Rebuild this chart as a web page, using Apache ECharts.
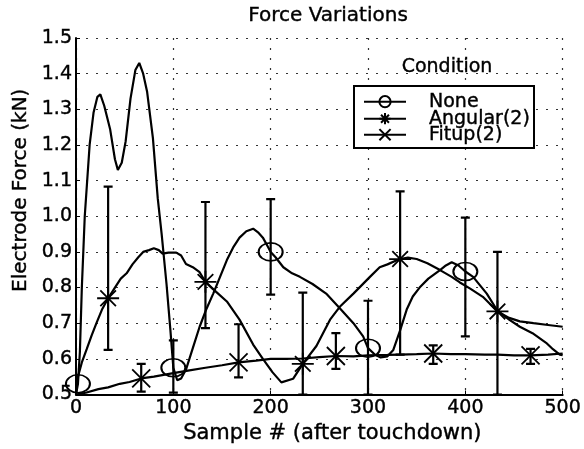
<!DOCTYPE html>
<html>
<head>
<meta charset="utf-8">
<script src="https://cdn.jsdelivr.net/npm/echarts@6/dist/echarts.min.js"></script>
<style>
  html, body { margin: 0; padding: 0; background: #fff; }
  #chart { width: 584px; height: 449px; }
</style>
</head>
<body>
<div id="chart"></div>
<script>
// curve samples
const noneX = [0, 2, 4, 6, 9, 14, 18, 22, 25, 29, 35, 40, 43, 47, 51, 56, 61, 65, 69, 73, 79, 84, 88, 93, 97, 100, 104, 108, 113, 120, 127, 134, 141, 148, 155, 162, 168, 175, 182, 187, 192, 197, 200, 205, 213, 222, 230, 243, 257, 271, 285, 295, 300, 307, 313, 320, 326, 333, 340, 346, 353, 362, 374, 380, 386, 393, 400, 408, 422, 433, 445, 456, 469, 483, 490, 497, 500]
const noneY = [0.50, 0.53, 0.62, 0.80, 1.00, 1.20, 1.29, 1.335, 1.342, 1.31, 1.245, 1.16, 1.13, 1.15, 1.21, 1.33, 1.41, 1.43, 1.40, 1.35, 1.22, 1.05, 0.95, 0.81, 0.68, 0.575, 0.54, 0.545, 0.57, 0.63, 0.69, 0.74, 0.783, 0.83, 0.877, 0.915, 0.94, 0.958, 0.965, 0.955, 0.94, 0.915, 0.90, 0.885, 0.857, 0.84, 0.83, 0.81, 0.783, 0.742, 0.70, 0.663, 0.63, 0.612, 0.604, 0.607, 0.625, 0.68, 0.74, 0.775, 0.80, 0.825, 0.849, 0.862, 0.871, 0.862, 0.845, 0.83, 0.783, 0.735, 0.71, 0.69, 0.672, 0.645, 0.627, 0.612, 0.61]

const angX = [0, 2, 6, 11, 16, 21, 27, 33, 40, 46, 52, 58, 64, 69, 75, 80, 85, 89, 95, 103, 108, 113, 120, 127, 133, 144, 155, 168, 182, 192, 202, 211, 223, 233, 247, 261, 271, 285, 302, 312, 320, 329, 333, 341, 350, 361, 374, 386, 394, 405, 418, 433, 445, 456, 470, 485, 500]
const angY = [0.50, 0.55, 0.59, 0.627, 0.665, 0.70, 0.74, 0.77, 0.80, 0.825, 0.84, 0.865, 0.885, 0.90, 0.905, 0.91, 0.905, 0.895, 0.898, 0.898, 0.89, 0.866, 0.857, 0.843, 0.816, 0.788, 0.761, 0.71, 0.64, 0.60, 0.562, 0.534, 0.544, 0.586, 0.636, 0.71, 0.746, 0.783, 0.83, 0.857, 0.865, 0.876, 0.88, 0.884, 0.88, 0.868, 0.849, 0.83, 0.815, 0.797, 0.774, 0.733, 0.715, 0.705, 0.70, 0.695, 0.69]

const fitX = [0, 10, 23, 33, 45, 55, 67, 80, 90, 100, 115, 133, 150, 167, 185, 200, 215, 233, 250, 267, 285, 300, 320, 333, 350, 367, 385, 400, 420, 433, 450, 467, 485, 500]
const fitY = [0.50, 0.505, 0.515, 0.52, 0.53, 0.535, 0.545, 0.55, 0.555, 0.56, 0.567, 0.575, 0.582, 0.59, 0.595, 0.60, 0.60, 0.601, 0.605, 0.608, 0.607, 0.61, 0.611, 0.612, 0.613, 0.615, 0.613, 0.613, 0.612, 0.612, 0.61, 0.61, 0.612, 0.615]

// where the markers sit
const noneMarks = [2, 100, 200, 300, 400]
const angMarks = [33, 133, 233, 333, 433]
const fitMarks = [67, 167, 267, 367, 467]

// error bars
const errX = [33, 67, 100, 133, 167, 200, 233, 267, 300, 333, 367, 400, 433, 467]
const errLo = [0.625, 0.508, 0.505, 0.686, 0.548, 0.78, 0.50, 0.572, 0.50, 0.612, 0.586, 0.663, 0.50, 0.586]
const errHi = [1.083, 0.586, 0.652, 1.04, 0.697, 1.048, 0.786, 0.672, 0.763, 1.07, 0.638, 0.996, 0.90, 0.628]

const xTicks = [0, 100, 200, 300, 400, 500]

const FONT = 'DejaVu Sans'
const STAR = 'path://M0,-10L0,10M-10,0L10,0M-7.1,-7.1L7.1,7.1M-7.1,7.1L7.1,-7.1'
const CROSS = 'path://M-7.1,-7.1L7.1,7.1M-7.1,7.1L7.1,-7.1'
// scanned text looks a little heavy
const ink = { color: '#000', textBorderColor: '#000', textBorderWidth: 0.4 }

function build(xs, ys, marks) {
  return xs.map((x, i) => marks.includes(x) ? [x, ys[i]] : { value: [x, ys[i]], symbol: 'none' })
}

function legendAt(name, top) {
  return {
    data: [name],
    left: 363,
    top: top,
    padding: 0,
    itemWidth: 42,
    itemHeight: 14,
    selectedMode: false,
    textStyle: Object.assign({ fontFamily: FONT, fontSize: 19, lineHeight: 16, padding: [0, 0, 0, 18] }, ink)
  }
}

const chart = echarts.init(document.getElementById('chart'))

chart.setOption({
  animation: false,
  backgroundColor: '#fff',
  title: {
    text: 'Force Variations',
    left: 323,
    top: 1,
    textAlign: 'center',
    textStyle: Object.assign({ fontFamily: FONT, fontSize: 20, fontWeight: 'normal' }, ink)
  },
  grid: { left: 76, right: 20, top: 38, bottom: 50 },
  legend: [legendAt('None', 92), legendAt('Angular(2)', 109), legendAt('Fitup(2)', 125)],
  graphic: [
    {
      type: 'rect', z: 3,
      shape: { x: 354, y: 86, width: 180, height: 62 },
      style: { fill: '#fff', stroke: '#000', lineWidth: 2 }
    },
    {
      type: 'text', z: 3, x: 447, y: 67,
      style: { text: 'Condition', fontFamily: FONT, fontSize: 19, fill: '#000', stroke: '#000', lineWidth: 0.4, align: 'center', verticalAlign: 'middle' }
    }
  ],
  xAxis: {
    type: 'value',
    min: 0, max: 500, interval: 100,
    name: 'Sample # (after touchdown)',
    nameLocation: 'middle',
    nameGap: 22,
    nameTextStyle: Object.assign({ fontFamily: FONT, fontSize: 21, padding: [0, 0, 0, 26] }, ink),
    axisLine: { lineStyle: { color: '#000', width: 2 } },
    axisTick: { inside: true, length: 4, lineStyle: { color: '#000' } },
    axisLabel: Object.assign({ fontFamily: FONT, fontSize: 19, margin: 4, formatter: v => xTicks.includes(v) ? String(v) : '' }, ink),
    splitLine: { show: true, lineStyle: { color: '#333', width: 1.2, type: [2, 8] } }
  },
  yAxis: {
    type: 'value',
    min: 0.5, max: 1.5, interval: 0.1,
    name: 'Electrode Force (kN)',
    nameLocation: 'middle',
    nameGap: 44,
    nameTextStyle: Object.assign({ fontFamily: FONT, fontSize: 20, padding: [0, 0, 0, 52] }, ink),
    axisLine: { lineStyle: { color: '#000', width: 2 } },
    axisTick: { inside: true, length: 4, lineStyle: { color: '#000' } },
    axisLabel: Object.assign({ fontFamily: FONT, fontSize: 19, margin: 4, formatter: v => v.toFixed(1) }, ink),
    splitLine: { show: true, lineStyle: { color: '#333', width: 1.2, type: [2, 8] } }
  },
  series: [
    {
      type: 'custom',
      name: 'errorbars',
      clip: true,
      z: 2,
      data: errX.map((x, i) => [x, errLo[i], errHi[i]]),
      renderItem: function (params, api) {
        const top = api.coord([api.value(0), api.value(2)])
        const bot = api.coord([api.value(0), api.value(1)])
        const w = 4.5
        const st = { stroke: '#000', lineWidth: 2.2 }
        return {
          type: 'group',
          children: [
            { type: 'line', shape: { x1: top[0], y1: top[1], x2: bot[0], y2: bot[1] }, style: st },
            { type: 'line', shape: { x1: top[0] - w, y1: top[1], x2: top[0] + w, y2: top[1] }, style: st },
            { type: 'line', shape: { x1: bot[0] - w, y1: bot[1], x2: bot[0] + w, y2: bot[1] }, style: st }
          ]
        }
      }
    },
    {
      type: 'line',
      name: 'None',
      data: build(noneX, noneY, noneMarks),
      symbol: 'circle',
      symbolSize: [24, 18],
      showAllSymbol: true,
      lineStyle: { color: '#000', width: 2.2 },
      itemStyle: { color: 'rgba(0,0,0,0)', borderColor: '#000', borderWidth: 1.8 },
      z: 3
    },
    {
      type: 'line',
      name: 'Angular(2)',
      data: build(angX, angY, angMarks),
      symbol: STAR,
      symbolSize: 22,
      showAllSymbol: true,
      lineStyle: { color: '#000', width: 2.2 },
      itemStyle: { color: '#000', borderColor: '#000', borderWidth: 1.8 },
      z: 3
    },
    {
      type: 'line',
      name: 'Fitup(2)',
      data: build(fitX, fitY, fitMarks),
      symbol: CROSS,
      symbolSize: 18,
      showAllSymbol: true,
      lineStyle: { color: '#000', width: 2.2 },
      itemStyle: { color: '#000', borderColor: '#000', borderWidth: 1.8 },
      z: 3
    }
  ]
})
</script>
</body>
</html>
